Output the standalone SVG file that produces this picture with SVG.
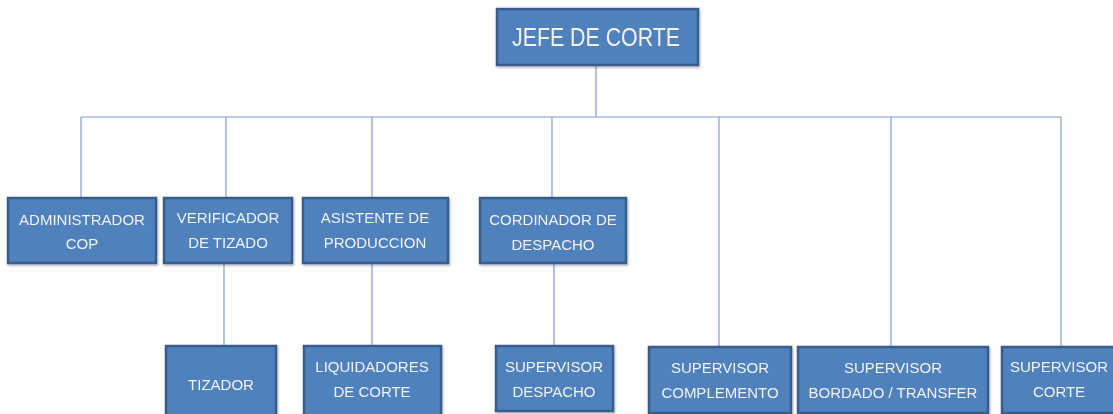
<svg xmlns="http://www.w3.org/2000/svg" width="1113" height="414" viewBox="0 0 1113 414">
<style>
.box{fill:#4F81BD;stroke:#385D8A;stroke-width:2.5}
.t{font-family:"Liberation Sans",Arial,sans-serif;font-size:15px;fill:#F2F2F2;text-anchor:middle}
.big{font-size:26px}
.c{stroke:#7F9FCF;stroke-width:1.2;fill:none}
</style>
<defs>
<filter id="sh" x="-10%" y="-10%" width="130%" height="130%">
<feDropShadow dx="1" dy="1.5" stdDeviation="1" flood-color="#000" flood-opacity="0.3"/>
</filter>
</defs>
<rect width="1113" height="414" fill="#fff"/>
<g id="connectors" class="c">
<path d="M596 65V117M81 117H1061"/>
<path d="M81 117V198M226 117V198M372 117V198M552 117V198M719 117V347M891 117V347M1061 117V347"/>
<path d="M224 263V346M372 263V346M554 263V346"/>
</g>
<g id="jefe" filter="url(#sh)"><rect class="box" x="497" y="9" width="201" height="56"/><text class="t big" x="596" y="46" textLength="168" lengthAdjust="spacingAndGlyphs">JEFE DE CORTE</text></g>
<g id="admin" filter="url(#sh)"><rect class="box" x="8" y="198" width="148" height="65"/><text class="t" x="82" y="225">ADMINISTRADOR</text><text class="t" x="82" y="249">COP</text></g>
<g id="verificador" filter="url(#sh)"><rect class="box" x="164" y="198" width="128" height="65"/><text class="t" x="228" y="223">VERIFICADOR</text><text class="t" x="228" y="248">DE TIZADO</text></g>
<g id="asistente" filter="url(#sh)"><rect class="box" x="303" y="198" width="145" height="65"/><text class="t" x="375" y="223">ASISTENTE DE</text><text class="t" x="375" y="248">PRODUCCION</text></g>
<g id="cordinador" filter="url(#sh)"><rect class="box" x="480" y="198" width="146" height="65"/><text class="t" x="553" y="225">CORDINADOR DE</text><text class="t" x="553" y="250">DESPACHO</text></g>
<g id="tizador" filter="url(#sh)"><rect class="box" x="166" y="346" width="110" height="74"/><text class="t" x="221" y="390">TIZADOR</text></g>
<g id="liquidadores" filter="url(#sh)"><rect class="box" x="304" y="346" width="137" height="74"/><text class="t" x="372" y="372">LIQUIDADORES</text><text class="t" x="372" y="397">DE CORTE</text></g>
<g id="supdespacho" filter="url(#sh)"><rect class="box" x="496" y="346" width="117" height="65"/><text class="t" x="554" y="372">SUPERVISOR</text><text class="t" x="554" y="397">DESPACHO</text></g>
<g id="supcomplemento" filter="url(#sh)"><rect class="box" x="649" y="347" width="142" height="66"/><text class="t" x="720" y="373">SUPERVISOR</text><text class="t" x="720" y="398">COMPLEMENTO</text></g>
<g id="supbordado" filter="url(#sh)"><rect class="box" x="798" y="347" width="190" height="66"/><text class="t" x="893" y="373">SUPERVISOR</text><text class="t" x="893" y="398">BORDADO / TRANSFER</text></g>
<g id="supcorte" filter="url(#sh)"><rect class="box" x="1002" y="347" width="116" height="66"/><text class="t" x="1059" y="372">SUPERVISOR</text><text class="t" x="1059" y="397">CORTE</text></g>
</svg>
